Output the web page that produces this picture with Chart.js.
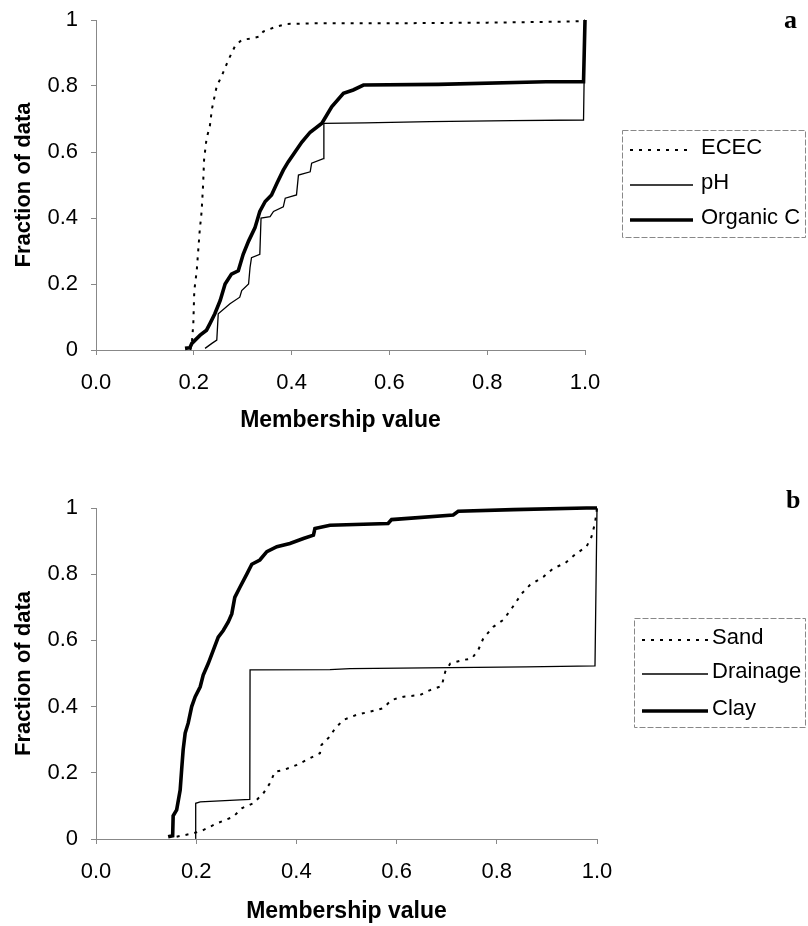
<!DOCTYPE html>
<html lang="en">
<head>
  <meta charset="UTF-8">
  <title>Membership value curves</title>
  <style>
    body { margin: 0; background: #fff; }
    #wrap { position: relative; width: 808px; height: 926px; }
    #chartA { position: absolute; left: 0; top: 0; }
    #chartB { position: absolute; left: 0; top: 460px; }
  </style>
</head>
<body>
  <div id="wrap">
    <canvas id="chartA" width="808" height="450"></canvas>
    <canvas id="chartB" width="808" height="466"></canvas>
  </div>

  <script src="https://cdn.jsdelivr.net/npm/chart.js"></script>
  <script>
    // --- panel a: soil chemistry ---
    const ececX = [0.193, 0.196, 0.199, 0.201, 0.206, 0.212, 0.216, 0.219, 0.221, 0.226, 0.233, 0.237, 0.247, 0.257, 0.271, 0.284, 0.298, 0.318, 0.335, 0.342, 0.369, 0.39, 0.45, 0.6, 0.8, 0.95, 0.997, 1.0]
    const ececY = [0.0, 0.02, 0.08, 0.18, 0.24, 0.36, 0.42, 0.5, 0.576, 0.64, 0.68, 0.73, 0.80, 0.83, 0.88, 0.92, 0.94, 0.944, 0.95, 0.965, 0.98, 0.988, 0.99, 0.99, 0.992, 0.995, 0.997, 1.0]

    const phX = [0.223, 0.237, 0.247, 0.25, 0.274, 0.294, 0.298, 0.312, 0.315, 0.318, 0.335, 0.3375, 0.356, 0.363, 0.383, 0.387, 0.41, 0.414, 0.438, 0.441, 0.465, 0.466, 0.55, 0.683, 0.85, 0.997, 1.0]
    const phY = [0.005, 0.02, 0.03, 0.11, 0.14, 0.16, 0.18, 0.20, 0.25, 0.28, 0.29, 0.40, 0.404, 0.42, 0.434, 0.46, 0.47, 0.53, 0.54, 0.566, 0.58, 0.687, 0.688, 0.692, 0.695, 0.697, 1.0]

    const orgCX = [0.182, 0.192, 0.196, 0.213, 0.226, 0.233, 0.243, 0.254, 0.264, 0.277, 0.291, 0.301, 0.312, 0.325, 0.335, 0.346, 0.359, 0.37, 0.383, 0.393, 0.407, 0.421, 0.438, 0.462, 0.482, 0.506, 0.526, 0.547, 0.7, 0.92, 0.997, 1.0]
    const orgCY = [0.005, 0.007, 0.02, 0.045, 0.06, 0.08, 0.11, 0.15, 0.20, 0.23, 0.24, 0.29, 0.33, 0.37, 0.42, 0.45, 0.47, 0.505, 0.545, 0.57, 0.60, 0.63, 0.66, 0.687, 0.737, 0.778, 0.788, 0.803, 0.805, 0.813, 0.813, 1.0]

    // --- panel b: soil physics ---
    const sandX = [0.161, 0.194, 0.214, 0.241, 0.274, 0.291, 0.314, 0.334, 0.347, 0.357, 0.374, 0.401, 0.427, 0.447, 0.45, 0.467, 0.477, 0.494, 0.52, 0.547, 0.573, 0.59, 0.614, 0.647, 0.667, 0.69, 0.697, 0.707, 0.733, 0.75, 0.763, 0.773, 0.793, 0.813, 0.83, 0.85, 0.866, 0.893, 0.913, 0.936, 0.959, 0.979, 0.989, 0.996, 1.0]
    const sandY = [0.007, 0.017, 0.027, 0.047, 0.067, 0.093, 0.108, 0.138, 0.168, 0.203, 0.208, 0.224, 0.244, 0.259, 0.284, 0.31, 0.334, 0.36, 0.375, 0.385, 0.395, 0.42, 0.43, 0.435, 0.45, 0.462, 0.505, 0.53, 0.541, 0.545, 0.571, 0.606, 0.641, 0.662, 0.697, 0.742, 0.767, 0.792, 0.818, 0.833, 0.863, 0.883, 0.913, 0.954, 1.0]

    const drainX = [0.198, 0.199, 0.208, 0.287, 0.307, 0.3075, 0.467, 0.507, 0.859, 0.996, 1.0]
    const drainY = [0.002, 0.108, 0.112, 0.118, 0.12, 0.511, 0.512, 0.515, 0.52, 0.523, 1.0]

    const clayX = [0.144, 0.153, 0.154, 0.161, 0.168, 0.171, 0.174, 0.178, 0.184, 0.191, 0.198, 0.208, 0.214, 0.224, 0.234, 0.244, 0.254, 0.264, 0.271, 0.277, 0.287, 0.301, 0.311, 0.327, 0.341, 0.361, 0.387, 0.414, 0.434, 0.437, 0.467, 0.583, 0.59, 0.713, 0.723, 0.833, 0.979, 1.0]
    const clayY = [0.007, 0.01, 0.07, 0.088, 0.148, 0.21, 0.27, 0.32, 0.35, 0.40, 0.43, 0.46, 0.495, 0.53, 0.57, 0.61, 0.63, 0.656, 0.68, 0.73, 0.76, 0.80, 0.83, 0.843, 0.868, 0.883, 0.893, 0.908, 0.918, 0.938, 0.948, 0.953, 0.965, 0.979, 0.99, 0.995, 1.0, 1.0]

    const yTicks = [0, 0.2, 0.4, 0.6, 0.8, 1]
    const xTicks = [0, 0.2, 0.4, 0.6, 0.8, 1]

    Chart.defaults.font.family = "'Liberation Sans', Arial, sans-serif"
    Chart.defaults.color = '#000'

    const toPoints = ( xs, ys ) => xs.map( ( x, i ) => ( { x, y: ys[i] } ) )

    // estilos de linea: punteada, fina, gruesa
    const dotted = { borderWidth: 2, borderDash: [3, 6] }
    const thin = { borderWidth: 1.3, borderDash: [] }
    const thick = { borderWidth: 3.6, borderDash: [] }

    const makeSet = ( label, xs, ys, style ) => ( {
      label,
      data: toPoints( xs, ys ),
      borderColor: '#000',
      backgroundColor: '#000',
      showLine: true,
      pointRadius: 0,
      tension: 0,
      clip: false,
      ...style
    } )

    // leyenda y letra del panel dibujadas a mano
    const panelExtras = {
      id: 'panelExtras',
      afterDraw( chart, args, opts ) {
        const ctx = chart.ctx
        ctx.save()
        ctx.strokeStyle = '#888'
        ctx.lineWidth = 1
        ctx.setLineDash( [6, 2] )
        ctx.strokeRect( opts.box[0] + 0.5, opts.box[1] + 0.5, opts.box[2], opts.box[3] )
        ctx.font = "22px 'Liberation Sans', Arial, sans-serif"
        ctx.fillStyle = '#000'
        ctx.textBaseline = 'middle'
        chart.data.datasets.forEach( ( ds, i ) => {
          const y = opts.rows[i]
          ctx.strokeStyle = '#000'
          ctx.lineWidth = ds.borderWidth
          ctx.setLineDash( ds.borderDash || [] )
          ctx.beginPath()
          ctx.moveTo( opts.line[0], y )
          ctx.lineTo( opts.line[1], y )
          ctx.stroke()
          ctx.fillText( ds.label, opts.textX, y - 2 )
        } )
        ctx.font = "bold 26px 'Liberation Serif', 'Times New Roman', serif"
        ctx.textBaseline = 'alphabetic'
        ctx.fillText( opts.tag, opts.tagPos[0], opts.tagPos[1] )
        ctx.restore()
      }
    }

    const makeOptions = ( padding, xHeight, extras ) => ( {
      responsive: false,
      animation: false,
      layout: { padding },
      plugins: {
        legend: { display: false },
        tooltip: { enabled: false },
        panelExtras: extras
      },
      scales: {
        x: {
          type: 'linear',
          min: 0,
          max: 1,
          afterBuildTicks: scale => { scale.ticks = xTicks.map( v => ( { value: v } ) ) },
          afterFit: scale => { scale.height = xHeight },
          ticks: {
            font: { size: 22 },
            padding: 15,
            maxRotation: 0,
            callback: v => v.toFixed( 1 )
          },
          grid: { drawOnChartArea: false, tickLength: 5, color: '#888' },
          border: { color: '#888', width: 1 },
          title: {
            display: true,
            text: 'Membership value',
            font: { size: 23, weight: 'bold' },
            padding: 0
          }
        },
        y: {
          type: 'linear',
          min: 0,
          max: 1,
          afterBuildTicks: scale => { scale.ticks = yTicks.map( v => ( { value: v } ) ) },
          afterFit: scale => {
            scale.width = 85
            scale.paddingTop = 0
            scale.paddingBottom = 0
          },
          ticks: {
            font: { size: 22 },
            padding: 13,
            callback: v => String( v )
          },
          grid: { drawOnChartArea: false, tickLength: 5, color: '#888' },
          border: { color: '#888', width: 1 },
          title: {
            display: true,
            text: 'Fraction of data',
            font: { size: 22, weight: 'bold' },
            padding: 0
          }
        }
      }
    } )

    new Chart( document.getElementById( 'chartA' ), {
      type: 'scatter',
      data: {
        datasets: [
          makeSet( 'ECEC', ececX, ececY, dotted ),
          makeSet( 'pH', phX, phY, thin ),
          makeSet( 'Organic C', orgCX, orgCY, thick )
        ]
      },
      options: makeOptions( { left: 11, right: 223, top: 20, bottom: 16 }, 84, {
        box: [622, 130, 183, 107],
        rows: [150, 185, 220],
        line: [630, 693],
        textX: 701,
        tag: 'a',
        tagPos: [784, 28]
      } ),
      plugins: [panelExtras]
    } )

    new Chart( document.getElementById( 'chartB' ), {
      type: 'scatter',
      data: {
        datasets: [
          makeSet( 'Sand', sandX, sandY, dotted ),
          makeSet( 'Drainage', drainX, drainY, thin ),
          makeSet( 'Clay', clayX, clayY, thick )
        ]
      },
      options: makeOptions( { left: 11, right: 211, top: 48, bottom: 1 }, 86, {
        box: [634, 158, 171, 109],
        rows: [180, 214, 251],
        line: [642, 708],
        textX: 712,
        tag: 'b',
        tagPos: [786, 48]
      } ),
      plugins: [panelExtras]
    } )
  </script>
</body>
</html>
